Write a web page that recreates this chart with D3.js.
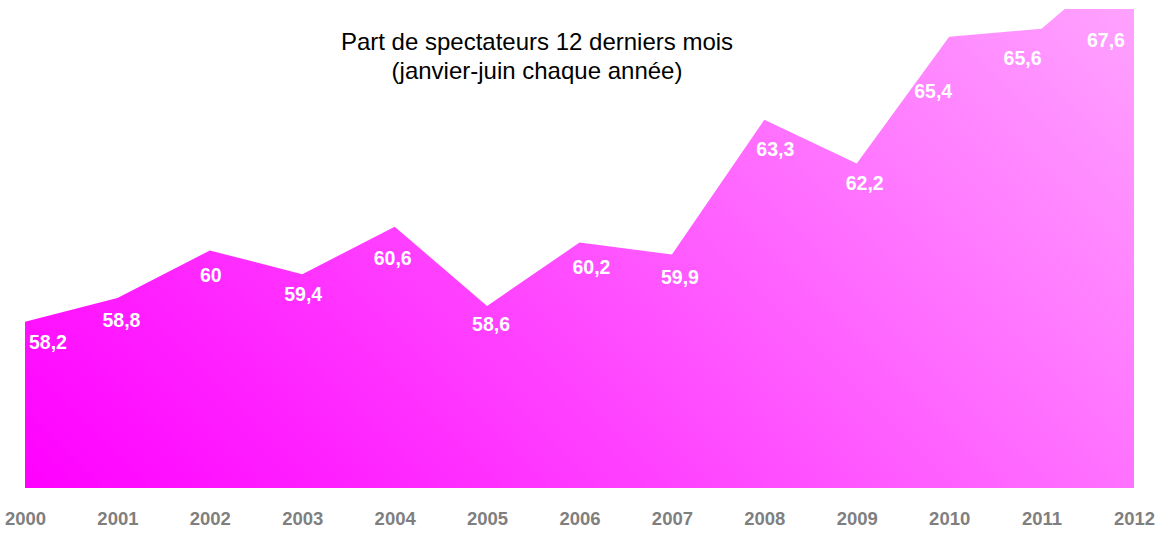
<!DOCTYPE html>
<html>
<head>
<meta charset="utf-8">
<script src="https://cdn.jsdelivr.net/npm/d3@7"></script>
<style>
  html, body { margin: 0; padding: 0; background: #fff; }
  svg { display: block; font-family: Arial, "Liberation Sans", sans-serif; }
</style>
</head>
<body>
<svg id="chart" width="1162" height="535"></svg>
<script>
// ---- data ----
const years = ["2000","2001","2002","2003","2004","2005","2006","2007","2008","2009","2010","2011","2012"];
const values = [58.2, 58.8, 60, 59.4, 60.6, 58.6, 60.2, 59.9, 63.3, 62.2, 65.4, 65.6, 67.6];
const titleLines = ["Part de spectateurs 12 derniers mois", "(janvier-juin chaque année)"];
const yDomain = [54, 66.1];

// label nudges (layout only): [dx, dy from point to text baseline]
const labelNudge = [[23,27],[4,29],[1,32],[1,27],[-2,38],[4,25],[12,31],[8,30],[11,36],[8,27],[-16,61],[-19,36],[-28,88]];

const W = 1162, H = 535;
const plot = { left: 25, right: 1134, top: 9, bottom: 488 };

const svg = d3.select("#chart");
const fr = d3.formatLocale({ decimal: ",", thousands: " ", grouping: [3], currency: ["", " €"] });
const fmt = fr.format("~g");

const x = d3.scalePoint().domain(years).range([plot.left, plot.right]);
const y = d3.scaleLinear().domain(yDomain).range([plot.bottom, plot.top]);

const defs = svg.append("defs");
const gl = ((plot.right - plot.left) + (plot.bottom - plot.top)) / 2;
const grad = defs.append("linearGradient")
  .attr("id", "fillGrad")
  .attr("gradientUnits", "userSpaceOnUse")
  .attr("x1", plot.left).attr("y1", plot.bottom)
  .attr("x2", plot.left + gl).attr("y2", plot.bottom - gl);
grad.append("stop").attr("offset", 0).attr("stop-color", "#ff00ff");
grad.append("stop").attr("offset", 1).attr("stop-color", "#ffa2ff");

defs.append("clipPath").attr("id", "plotClip")
  .append("rect")
  .attr("x", plot.left).attr("y", plot.top)
  .attr("width", plot.right - plot.left)
  .attr("height", plot.bottom - plot.top);

const data = years.map((yr, i) => ({ year: yr, value: values[i], i }));

const area = d3.area()
  .x(d => x(d.year))
  .y0(y(yDomain[0]))
  .y1(d => y(d.value));

svg.append("g").attr("clip-path", "url(#plotClip)")
  .append("path")
  .datum(data)
  .attr("d", area)
  .attr("fill", "url(#fillGrad)");

// value labels
svg.append("g")
  .selectAll("text")
  .data(data)
  .join("text")
  .attr("x", d => x(d.year) + labelNudge[d.i][0])
  .attr("y", d => Math.max(y(d.value), plot.top - 50) + labelNudge[d.i][1])
  .attr("text-anchor", "middle")
  .attr("fill", "#ffffff")
  .attr("font-weight", "bold")
  .attr("font-size", "19.5px")
  .text(d => fmt(d.value));

// x axis
const xAxis = d3.axisBottom(x).tickSize(0).tickPadding(0);
const gx = svg.append("g")
  .attr("transform", `translate(0, 525)`)
  .call(xAxis);
gx.select(".domain").remove();
gx.selectAll("text")
  .attr("dy", 0)
  .attr("y", 0)
  .attr("fill", "#7f7f7f")
  .attr("font-weight", "bold")
  .attr("font-size", "18.5px")
  .attr("font-family", "Arial, 'Liberation Sans', sans-serif");

// title
svg.append("g")
  .selectAll("text")
  .data(titleLines)
  .join("text")
  .attr("x", 537)
  .attr("y", (d, i) => 50 + i * 29)
  .attr("text-anchor", "middle")
  .attr("fill", "#000")
  .attr("font-size", "24px")
  .text(d => d);
</script>
</body>
</html>
